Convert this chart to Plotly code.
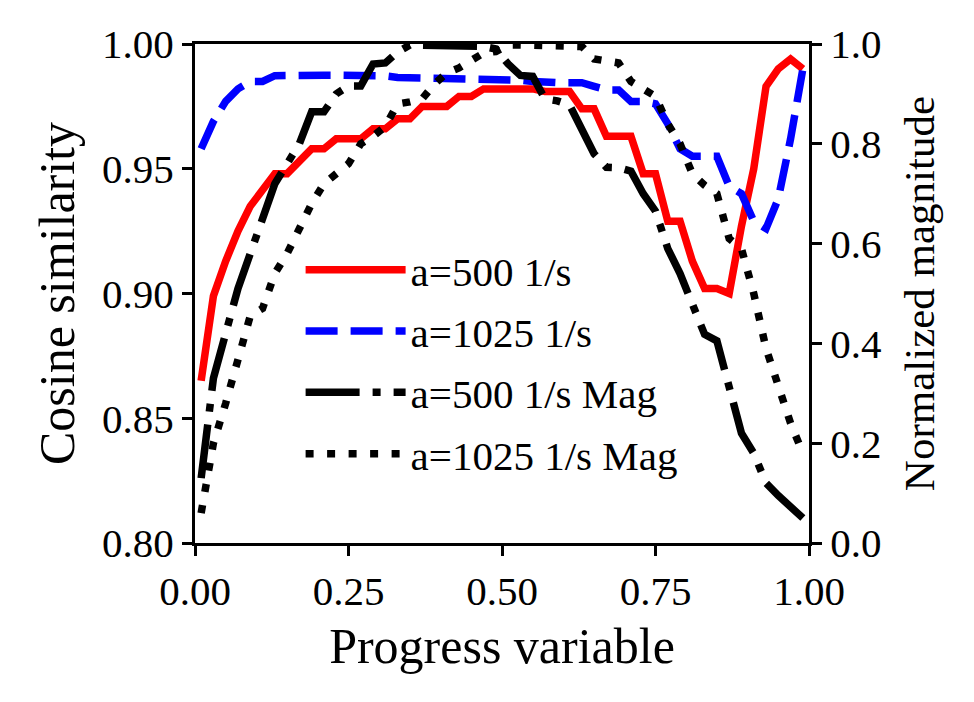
import plotly.graph_objects as go

progress = [round(0.01 + 0.02 * i, 2) for i in range(50)]

cos_500 = [0.865, 0.899, 0.913, 0.925, 0.935, 0.942, 0.948, 0.948, 0.953, 0.958,
           0.958, 0.962, 0.962, 0.962, 0.966, 0.966, 0.970, 0.970, 0.975, 0.975,
           0.975, 0.979, 0.979, 0.982, 0.982, 0.982, 0.9825, 0.982, 0.981, 0.981,
           0.981, 0.974, 0.974, 0.963, 0.963, 0.963, 0.948, 0.948, 0.929, 0.929,
           0.913, 0.902, 0.902, 0.900, 0.927, 0.950, 0.983, 0.990, 0.994, 0.990]

cos_1025 = [0.958, 0.969, 0.977, 0.982, 0.985, 0.985, 0.9873, 0.9875, 0.9875, 0.9875,
            0.9875, 0.9875, 0.9875, 0.9875, 0.9875, 0.9872, 0.9866, 0.9865, 0.9865, 0.9865,
            0.9865, 0.9862, 0.986, 0.986, 0.986, 0.9858, 0.9855, 0.985, 0.9845, 0.9845,
            0.9845, 0.9845, 0.983, 0.9816, 0.9816, 0.977, 0.977, 0.976, 0.968, 0.958,
            0.955, 0.955, 0.955, 0.943, 0.940, 0.929, 0.926, 0.938, 0.962, 0.990]

mag_500 = [0.13, 0.33, 0.42, 0.51, 0.58, 0.65, 0.72, 0.76, 0.80, 0.864,
           0.864, 0.90, 0.916, 0.916, 0.96, 0.962, 0.984, 0.998, 0.998, 0.998,
           0.998, 0.997, 0.996, 0.995, 0.99, 0.96, 0.937, 0.935, 0.89, 0.886,
           0.878, 0.825, 0.78, 0.753, 0.752, 0.745, 0.70, 0.665, 0.59, 0.54,
           0.48, 0.418, 0.405, 0.31, 0.22, 0.18, 0.12, 0.095, 0.072, 0.05]

mag_1025 = [0.06, 0.20, 0.28, 0.367, 0.455, 0.47, 0.54, 0.58, 0.63, 0.68,
            0.72, 0.74, 0.76, 0.80, 0.815, 0.835, 0.88, 0.884, 0.89, 0.92,
            0.942, 0.952, 0.965, 0.982, 0.985, 0.998, 0.998, 0.998, 0.998, 0.998,
            0.998, 0.995, 0.97, 0.966, 0.962, 0.925, 0.912, 0.895, 0.84, 0.80,
            0.74, 0.717, 0.70, 0.61, 0.59, 0.50, 0.39, 0.31, 0.24, 0.18]

FONT = "Liberation Serif"
LW = 7.5
TICK_SIZE = 41
TITLE_SIZE = 50

fig = go.Figure()
fig.add_trace(go.Scatter(x=progress, y=cos_500, mode="lines", name="a=500 1/s",
                         line=dict(color="#ff0000", width=LW), legendgroup="g1"))
fig.add_trace(go.Scatter(x=progress, y=cos_1025, mode="lines", name="a=1025 1/s",
                         line=dict(color="#0000ff", width=LW, dash="32px,13px"), legendgroup="g2"))
fig.add_trace(go.Scatter(x=progress, y=mag_500, mode="lines", name="a=500 1/s Mag", yaxis="y2",
                         line=dict(color="#000000", width=LW, dash="54px,13px,8px,13px"), legendgroup="g3"))
fig.add_trace(go.Scatter(x=progress, y=mag_1025, mode="lines", name="a=1025 1/s Mag", yaxis="y2",
                         line=dict(color="#000000", width=LW, dash="8px,13.5px"), legendgroup="g4"))

tickfont = dict(family=FONT, size=TICK_SIZE, color="black")
fig.update_layout(
    width=974, height=702,
    margin=dict(l=195, r=165, t=44, b=159),
    paper_bgcolor="white", plot_bgcolor="white",
    font=dict(family=FONT, color="black"),
    showlegend=True,
    legend=dict(x=0.172, y=0.614, xanchor="left", yanchor="top",
                bgcolor="rgba(0,0,0,0)", font=dict(family=FONT, size=TICK_SIZE),
                tracegroupgap=5, itemwidth=100),
    xaxis=dict(range=[0, 1], tickvals=[0, 0.25, 0.5, 0.75, 1.0],
               ticktext=["0.00", "0.25", "0.50", "0.75", "1.00"],
               showline=True, linecolor="black", linewidth=3, mirror=True,
               ticks="outside", ticklen=10, tickwidth=3, tickcolor="black",
               showgrid=False, zeroline=False, tickfont=tickfont,
               title=dict(text="Progress variable", font=dict(family=FONT, size=TITLE_SIZE), standoff=15)),
    yaxis=dict(range=[0.80, 1.00], tickvals=[0.80, 0.85, 0.90, 0.95, 1.00],
               ticktext=["0.80", "0.85", "0.90", "0.95", "1.00"],
               showline=True, linecolor="black", linewidth=3,
               ticks="outside", ticklen=10, tickwidth=3, tickcolor="black",
               showgrid=False, zeroline=False, tickfont=tickfont,
               title=dict(text="Cosine similarity", font=dict(family=FONT, size=TITLE_SIZE), standoff=12)),
    yaxis2=dict(range=[0, 1.0], overlaying="y", side="right",
                tickvals=[0, 0.2, 0.4, 0.6, 0.8, 1.0],
                ticktext=["0.0", "0.2", "0.4", "0.6", "0.8", "1.0"],
                showline=True, linecolor="black", linewidth=3,
                ticks="outside", ticklen=10, tickwidth=3, tickcolor="black",
                showgrid=False, zeroline=False, tickfont=tickfont,
                title=dict(text="Normalized magnitude", font=dict(family=FONT, size=43), standoff=24)),
)

fig.write_html("out.html")
